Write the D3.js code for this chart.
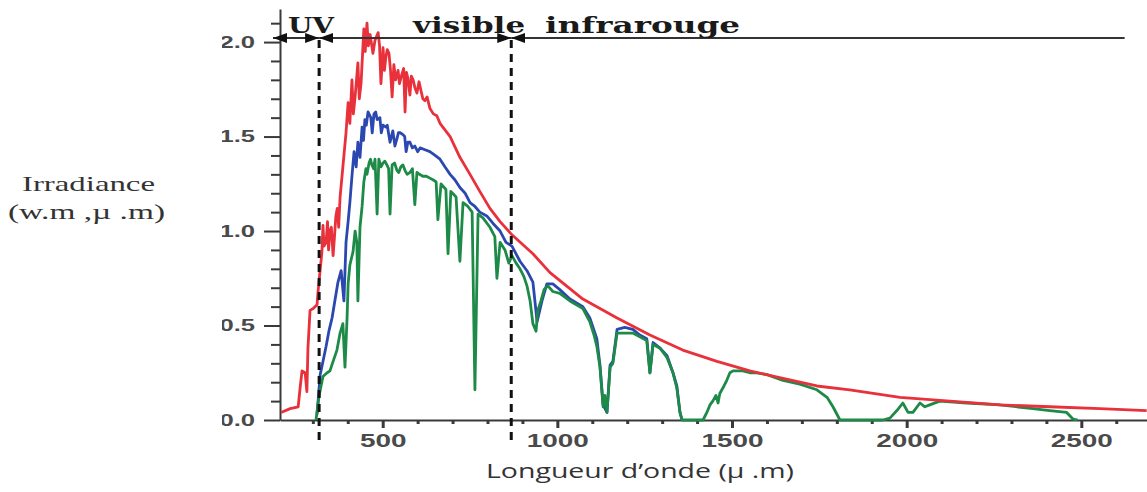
<!DOCTYPE html>
<html>
<head>
<meta charset="utf-8">
<script src="https://cdn.jsdelivr.net/npm/d3@7"></script>
<style>
html, body { margin: 0; padding: 0; background: #fff; }
svg { display: block; }
</style>
</head>
<body>
<svg id="chart" width="1147" height="492"></svg>
<script>
// spectre hors atmosphère (rouge)
const redNm  = [209, 235, 258, 263, 269, 278, 283, 286, 292, 301, 312, 315, 326, 329, 332, 338, 342, 345, 349, 353,
                358, 362, 366, 370, 374, 378, 386, 395, 401, 406, 412, 416, 421, 429, 433, 438, 446, 450, 455, 459,
                464, 472, 478, 487, 491, 495, 501, 505, 509, 513, 518, 522, 527, 532, 537, 544, 548, 555, 560, 564,
                568, 572, 578, 582, 587, 592, 598, 604, 610, 615, 621, 627, 635, 645, 655, 664, 693, 721, 750, 778,
                807, 836, 870, 930, 979, 1073, 1171, 1265, 1359, 1457, 1551, 1646, 1743, 1837, 1981, 2124, 2267, 2410, 2553, 2687];
const redIrr = [0.04, 0.06, 0.07, 0.16, 0.26, 0.25, 0.15, 0.38, 0.58, 0.59, 0.61, 0.68, 0.89, 1.03, 0.92, 0.94, 1.05, 0.90, 1.00, 1.02,
                0.87, 0.97, 1.08, 1.12, 1.02, 1.18, 1.34, 1.52, 1.68, 1.57, 1.80, 1.62, 1.71, 1.89, 1.70, 1.78, 2.07, 1.95, 2.10, 1.98,
                2.04, 1.94, 2.01, 2.05, 1.98, 1.78, 1.97, 1.85, 1.92, 1.96, 1.94, 1.86, 1.71, 1.88, 1.80, 1.85, 1.78, 1.83, 1.86, 1.63,
                1.84, 1.81, 1.72, 1.82, 1.80, 1.76, 1.73, 1.79, 1.74, 1.70, 1.69, 1.71, 1.65, 1.62, 1.61, 1.57, 1.50, 1.39, 1.30, 1.21,
                1.12, 1.05, 0.98, 0.88, 0.78, 0.64, 0.54, 0.45, 0.37, 0.31, 0.26, 0.22, 0.18, 0.16, 0.12, 0.10, 0.08, 0.07, 0.06, 0.05];

// spectre intermédiaire (bleu)
const blueNm  = [312, 321, 329, 338, 346, 355, 363, 372, 381, 389, 395, 401, 406, 412, 418, 424, 429, 435, 441, 445,
                 449, 453, 458, 466, 470, 475, 480, 484, 492, 496, 501, 509, 513, 521, 529, 535, 541, 545, 550, 558,
                 563, 567, 572, 578, 585, 592, 600, 607, 621, 635, 650, 664, 678, 693, 707, 721, 736, 750, 764, 778,
                 798, 816, 836, 853, 870, 893, 913, 930, 942, 956, 970, 987, 1007, 1036, 1073, 1093, 1113, 1122, 1131, 1142,
                 1151, 1159, 1171, 1193, 1216, 1236, 1256, 1265, 1274, 1294, 1314, 1331, 1342, 1351, 1357];
const blueIrr = [0.03, 0.24, 0.31, 0.39, 0.47, 0.54, 0.63, 0.73, 0.79, 0.63, 0.94, 1.05, 1.15, 1.29, 1.42, 1.34, 1.47, 1.39, 1.55, 1.48,
                 1.59, 1.56, 1.63, 1.60, 1.52, 1.62, 1.63, 1.59, 1.60, 1.52, 1.56, 1.55, 1.56, 1.47, 1.53, 1.45, 1.49, 1.52, 1.52, 1.51,
                 1.50, 1.42, 1.47, 1.47, 1.44, 1.45, 1.42, 1.44, 1.43, 1.42, 1.40, 1.38, 1.34, 1.30, 1.27, 1.23, 1.20, 1.15, 1.13, 1.10,
                 1.08, 1.04, 1.00, 0.94, 0.92, 0.84, 0.79, 0.73, 0.52, 0.63, 0.72, 0.72, 0.69, 0.64, 0.60, 0.54, 0.43, 0.29, 0.08, 0.04,
                 0.29, 0.31, 0.48, 0.49, 0.48, 0.45, 0.43, 0.25, 0.41, 0.38, 0.34, 0.25, 0.18, 0.04, 0.00];

// spectre au sol (vert)
const greenNm  = [309, 318, 329, 341, 349, 358, 369, 378, 386, 392, 398, 401, 406, 415, 421, 426, 429, 435, 441, 446,
                  452, 455, 461, 465, 469, 474, 478, 484, 489, 495, 501, 506, 512, 517, 521, 527, 534, 541, 546, 552,
                  558, 564, 570, 578, 585, 592, 598, 605, 615, 625, 635, 645, 653, 658, 667, 681, 687, 695, 710, 721,
                  730, 744, 756, 764, 773, 787, 807, 821, 827, 836, 850, 861, 870, 882, 893, 904, 913, 922, 930, 939,
                  944, 953, 962, 973, 987, 1007, 1036, 1073, 1093, 1105, 1113, 1122, 1131, 1136, 1142, 1151, 1159, 1171, 1188, 1216,
                  1236, 1256, 1265, 1274, 1294, 1314, 1331, 1342, 1351, 1357, 1417, 1428, 1437, 1445, 1454, 1460, 1465, 1477, 1485, 1494,
                  1503, 1531, 1551, 1571, 1600, 1646, 1694, 1743, 1772, 1789, 1809, 1932, 1952, 1972, 1989, 2004, 2018, 2038, 2052, 2066,
                  2095, 2172, 2267, 2361, 2410, 2458, 2476, 2490];
const greenIrr = [0.00, 0.13, 0.23, 0.25, 0.26, 0.31, 0.37, 0.46, 0.51, 0.28, 0.54, 0.72, 0.82, 0.89, 1.00, 0.94, 0.63, 1.02, 1.13, 1.26,
                  1.33, 1.30, 1.36, 1.38, 1.35, 1.33, 1.38, 1.09, 1.38, 1.34, 1.36, 1.37, 1.35, 1.33, 1.09, 1.35, 1.36, 1.32, 1.31, 1.34,
                  1.35, 1.32, 1.30, 1.31, 1.33, 1.14, 1.31, 1.30, 1.29, 1.29, 1.28, 1.27, 1.26, 1.06, 1.25, 1.22, 0.88, 1.21, 1.18, 0.84,
                  1.15, 1.13, 1.10, 0.16, 1.09, 1.07, 1.02, 0.97, 0.75, 0.94, 0.90, 0.83, 0.87, 0.83, 0.80, 0.76, 0.71, 0.63, 0.51, 0.47,
                  0.58, 0.63, 0.69, 0.71, 0.68, 0.67, 0.63, 0.59, 0.52, 0.45, 0.39, 0.28, 0.07, 0.13, 0.04, 0.28, 0.30, 0.46, 0.46, 0.46,
                  0.44, 0.42, 0.25, 0.40, 0.38, 0.33, 0.25, 0.17, 0.04, 0.00, 0.00, 0.04, 0.08, 0.10, 0.13, 0.09, 0.14, 0.18, 0.21, 0.25,
                  0.26, 0.26, 0.25, 0.25, 0.24, 0.21, 0.19, 0.16, 0.12, 0.07, 0.00, 0.00, 0.01, 0.05, 0.09, 0.04, 0.04, 0.09, 0.07, 0.08,
                  0.10, 0.09, 0.08, 0.06, 0.05, 0.04, 0.005, 0.00];

// axes
const xMajorTicks = [500, 1000, 1500, 2000, 2500];
const xMinorTicks = [300, 400, 600, 700, 800, 900, 1100, 1200, 1300, 1400, 1600, 1700, 1800, 1900,
                     2100, 2200, 2300, 2400, 2600];
const yMajorTicks = [0, 0.5, 1.0, 1.5, 2.0];
const yMinorTicks = [0.1, 0.2, 0.3, 0.4, 0.6, 0.7, 0.8, 0.9, 1.1, 1.2, 1.3, 1.4, 1.6, 1.7, 1.8, 1.9, 2.1];

// domaines spectraux
const bandEdges  = [186, 318, 868, 2624];
const bandLabels = ['UV', 'visible', 'infrarouge'];
const bandLabelAt = [229, 587, 965];

const svg = d3.select('#chart');
const defs = svg.append('defs');

const x = d3.scaleLinear().domain([206, 2688]).range([280, 1147]);
const y = d3.scaleLinear().domain([0, 2.175]).range([420, 9]);

const axisColor = '#3a3a3a';
const tickFont = '"Liberation Sans", Arial, sans-serif';

// --- axe Y
defs.append('clipPath').attr('id', 'yclip')
	.append('rect').attr('x', 222).attr('y', 0).attr('width', 930).attr('height', 492);

svg.append('g').attr('transform', 'translate(280,0)')
	.call(d3.axisLeft(y).tickValues(yMinorTicks).tickSize(9).tickSizeOuter(0).tickFormat(''))
	.call(g => g.select('.domain').remove())
	.call(g => g.selectAll('line').attr('stroke', axisColor).attr('stroke-width', 2));

svg.append('g').attr('clip-path', 'url(#yclip)')
	.append('g').attr('transform', 'translate(280,0)')
	.call(d3.axisLeft(y).tickValues(yMajorTicks).tickSize(16).tickSizeOuter(0).tickFormat(d3.format('.1f')))
	.call(g => g.select('.domain').attr('stroke', axisColor).attr('stroke-width', 2))
	.call(g => g.selectAll('line').attr('stroke', axisColor).attr('stroke-width', 2))
	.call(g => g.selectAll('text')
		.attr('x', -15.6)
		.attr('transform', 'scale(1.6,1)')
		.attr('fill', '#4a4a4a')
		.style('font-family', tickFont)
		.style('font-weight', 'bold')
		.style('font-size', '16px'));

// --- axe X
svg.append('g').attr('transform', 'translate(0,420)')
	.call(d3.axisBottom(x).tickValues(xMinorTicks).tickSize(4).tickSizeOuter(0).tickFormat(''))
	.call(g => g.select('.domain').remove())
	.call(g => g.selectAll('line').attr('stroke', axisColor).attr('stroke-width', 3));

svg.append('g').attr('transform', 'translate(0,420)')
	.call(d3.axisBottom(x).tickValues(xMajorTicks).tickSize(8).tickSizeOuter(0).tickFormat(d3.format('d')))
	.call(g => g.select('.domain').attr('stroke', axisColor).attr('stroke-width', 2))
	.call(g => g.selectAll('line').attr('stroke', axisColor).attr('stroke-width', 3))
	.call(g => g.selectAll('text')
		.attr('y', 27)
		.attr('dy', 0)
		.attr('transform', 'scale(1.55,1)')
		.attr('fill', '#4a4a4a')
		.style('font-family', tickFont)
		.style('font-weight', 'bold')
		.style('font-size', '18px'));

// --- courbes
const series = [
	{ nm: blueNm,  irr: blueIrr,  color: '#2a48b0' },
	{ nm: greenNm, irr: greenIrr, color: '#1d8a47' },
	{ nm: redNm,   irr: redIrr,   color: '#e8313b' }
];

const line = d3.line()
	.x(d => x(d[0]))
	.y(d => y(d[1]));

series.forEach(s => {
	const pts = s.nm.map((n, i) => [n, s.irr[i]]);
	svg.append('path')
		.datum(pts)
		.attr('d', line)
		.attr('fill', 'none')
		.attr('stroke', s.color)
		.attr('stroke-width', 2.8)
		.attr('stroke-linejoin', 'round');
});

// --- limites UV / visible / IR
[bandEdges[1], bandEdges[2]].forEach(b => {
	svg.append('line')
		.attr('x1', x(b)).attr('x2', x(b))
		.attr('y1', 40).attr('y2', 440)
		.attr('stroke', '#111')
		.attr('stroke-width', 3)
		.attr('stroke-dasharray', '8,6');
});

defs.append('marker')
	.attr('id', 'arrow')
	.attr('viewBox', '0 0 14 10')
	.attr('refX', 14).attr('refY', 5)
	.attr('markerWidth', 14).attr('markerHeight', 10)
	.attr('markerUnits', 'userSpaceOnUse')
	.attr('orient', 'auto-start-reverse')
	.append('path').attr('d', 'M0,0L14,5L0,10Z').attr('fill', '#111');

const arrowY = 38;
for (let i = 0; i < bandLabels.length; i++) {
	const seg = svg.append('line')
		.attr('x1', x(bandEdges[i])).attr('x2', x(bandEdges[i + 1]))
		.attr('y1', arrowY).attr('y2', arrowY)
		.attr('stroke', '#333')
		.attr('stroke-width', 2)
		.attr('marker-start', 'url(#arrow)');
	if (i < bandLabels.length - 1) seg.attr('marker-end', 'url(#arrow)');
}

const bandWidths = [46, 112, 195];
bandLabels.forEach((t, i) => {
	svg.append('text')
		.attr('x', x(bandLabelAt[i]))
		.attr('y', 33)
		.attr('textLength', bandWidths[i])
		.attr('lengthAdjust', 'spacingAndGlyphs')
		.attr('fill', '#1a1a1a')
		.style('font-family', '"DejaVu Serif", serif')
		.style('font-weight', 'bold')
		.style('font-size', '22px')
		.text(t);
});

// --- titres des axes
svg.append('text')
	.attr('x', 22).attr('y', 191)
	.attr('textLength', 133).attr('lengthAdjust', 'spacingAndGlyphs')
	.attr('fill', '#333')
	.style('font-family', '"Liberation Serif", serif')
	.style('font-size', '22px')
	.text('Irradiance');

svg.append('text')
	.attr('x', 8).attr('y', 219)
	.attr('textLength', 157).attr('lengthAdjust', 'spacingAndGlyphs')
	.attr('fill', '#333')
	.style('font-family', '"Liberation Serif", serif')
	.style('font-size', '22px')
	.text('(w.m ,µ .m)');

svg.append('text')
	.attr('x', 486).attr('y', 478)
	.attr('textLength', 308).attr('lengthAdjust', 'spacingAndGlyphs')
	.attr('fill', '#333')
	.style('font-family', '"Open Sans", sans-serif')
	.style('font-size', '20px')
	.text('Longueur d’onde (µ .m)');
</script>
</body>
</html>
